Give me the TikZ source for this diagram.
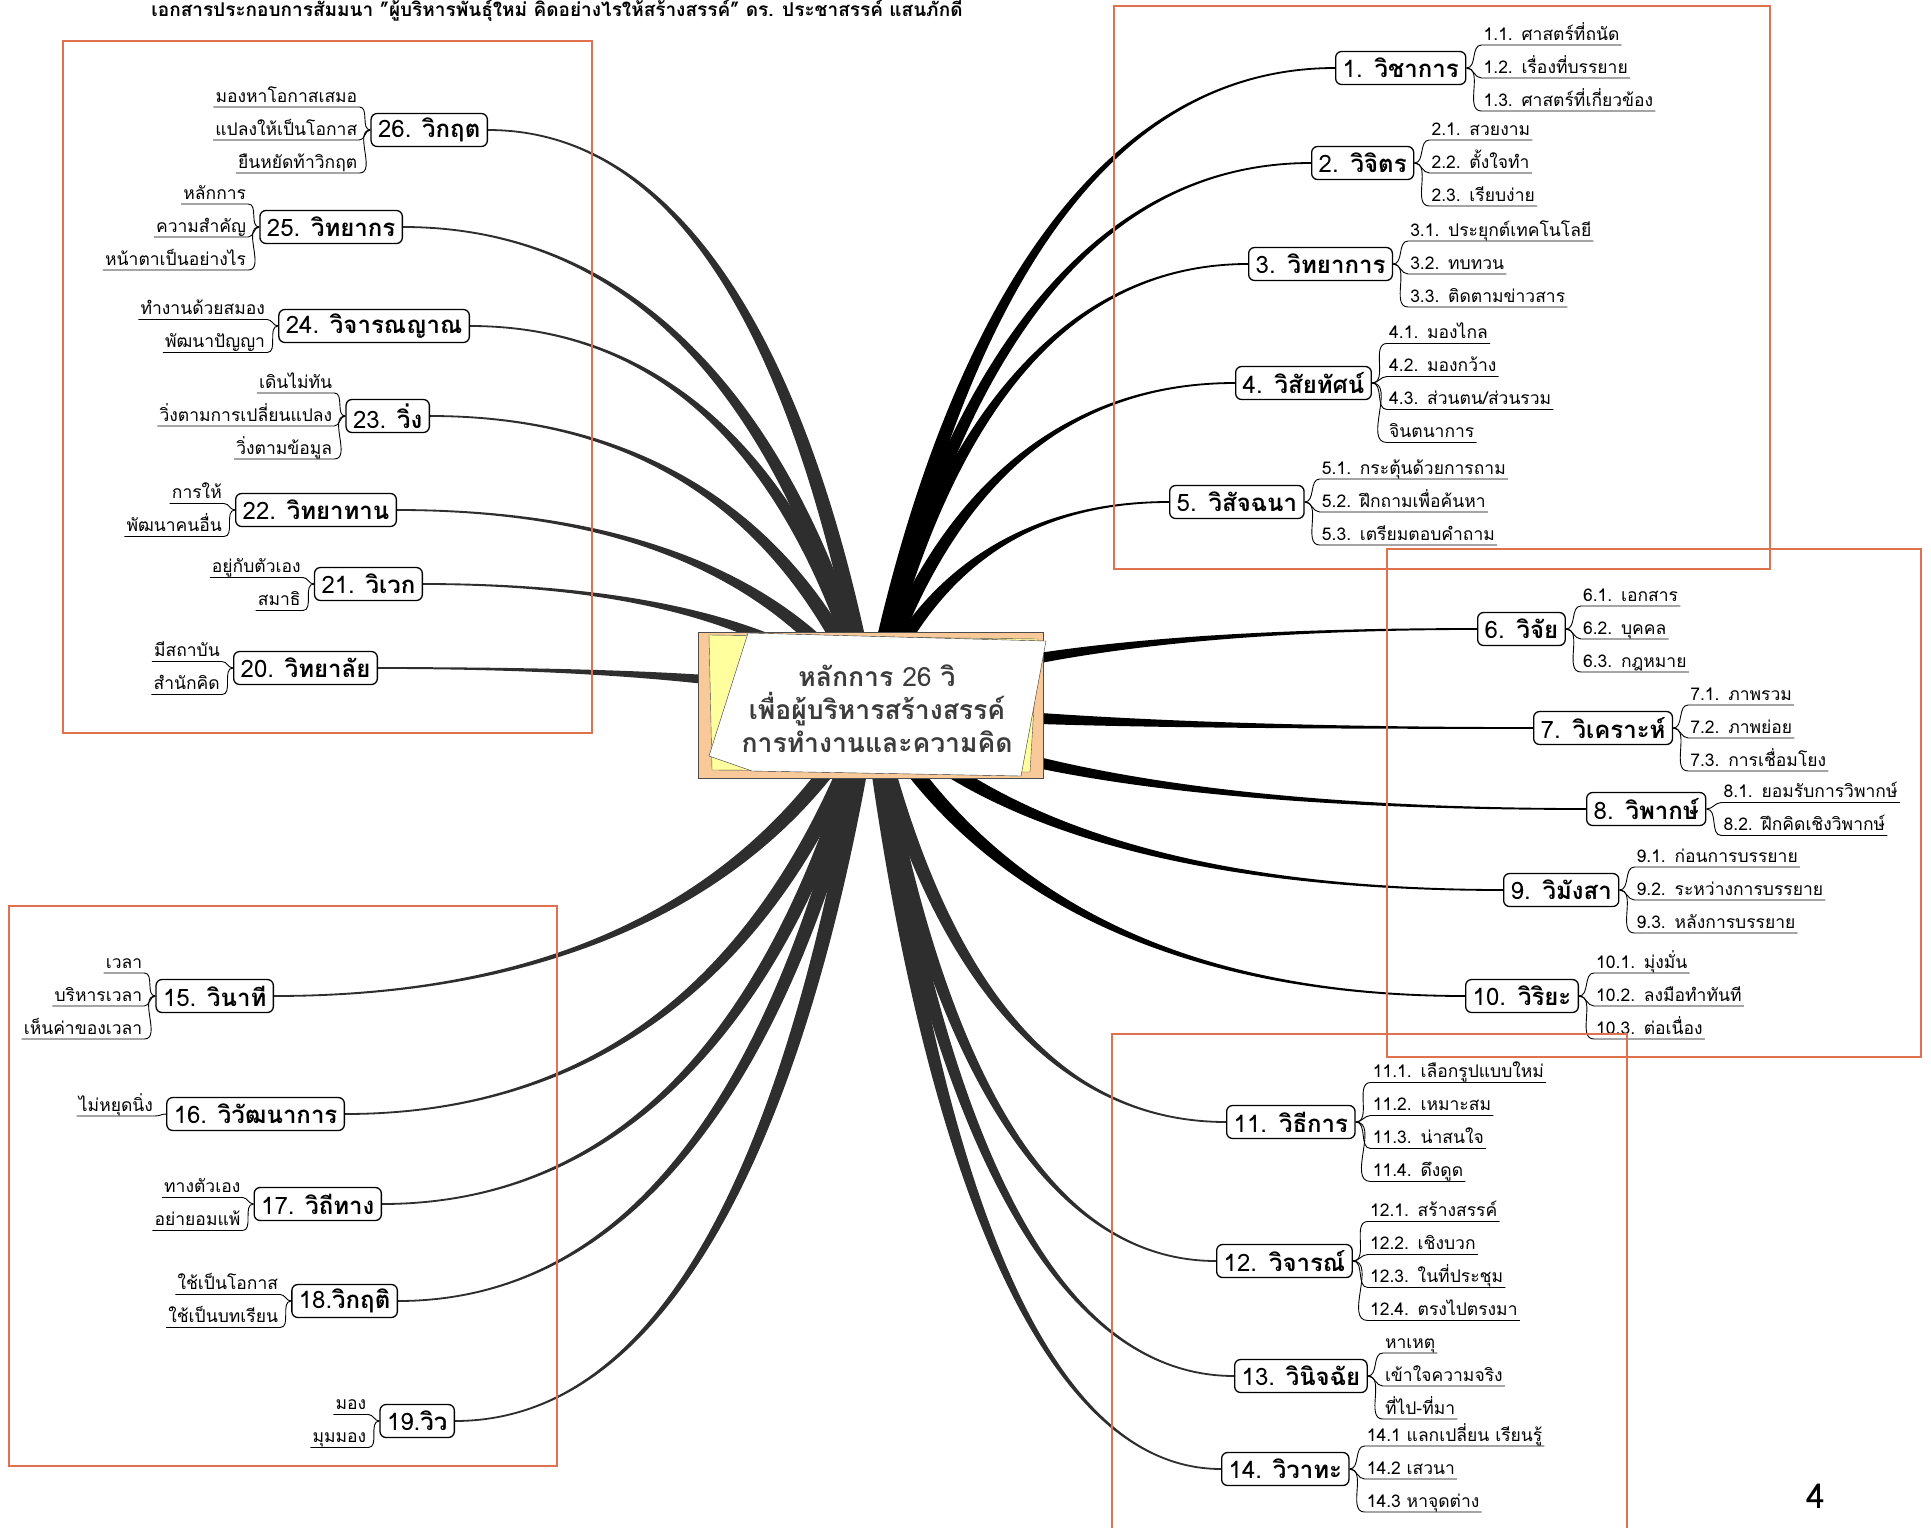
\documentclass[tikz,border=0pt]{standalone}
\usepackage{fontspec}
\setmainfont{Loma}[Script=Thai]
\usetikzlibrary{positioning, calc, backgrounds}
\definecolor{peach}{HTML}{F9C99A}
\definecolor{paper}{HTML}{FFFF9E}
\definecolor{frameline}{HTML}{E0714F}
\definecolor{ink}{HTML}{3C3C3C}

\tikzset{
  topic/.style={draw, line width=1.3pt, rounded corners=6pt, fill=white, inner xsep=7pt,
    minimum height=33pt, font=\fontsize{24}{26}\selectfont},
  leaf/.style={inner xsep=2pt, inner ysep=1.5pt, text height=15pt, text depth=3pt,
    font=\fontsize{17.5}{19}\selectfont},
  twig/.style={line width=0.9pt},
  frame/.style={draw=frameline, line width=1.2pt},
}

% sub topics on the right / left of a topic
\newcommand{\leavesR}[4][10]{%
  \foreach \txt [count=\i] in {#4}{
    \pgfmathsetmacro{\off}{33*(\i-(#3+1)/2)+#1}
    \node[leaf, anchor=south west] (#2-\i) at ($(#2.east)+(15,\off)$) {\txt};
    \draw[twig] (#2.east) to[out=0, in=180] (#2-\i.south west) -- (#2-\i.south east);
  }}
\newcommand{\leavesL}[4][10]{%
  \foreach \txt [count=\i] in {#4}{
    \pgfmathsetmacro{\off}{33*(\i-(#3+1)/2)+#1}
    \node[leaf, anchor=south east] (#2-\i) at ($(#2.west)+(-11,\off)$) {\txt};
    \draw[twig] (#2.west) to[out=180, in=0] (#2-\i.south east) -- (#2-\i.south west);
  }}

% tapered branch from the hub to a topic
\newcommand{\limb}[3][black]{%
  \fill[#1] let \p0=(#2), \p3=(#3),
    \n1={\x3-\x0}, \n2={\y3-\y0},
    \n3={veclen(0.15*\n1,0.55*\n2)}, \n5={\n1/abs(\n1)} in
    ({\x0-0.55*\n2/\n3*8},{\y0+0.15*\n1/\n3*8})
    .. controls ({\x0+0.15*\n1-0.55*\n2/\n3*8},{\y0+0.55*\n2+0.15*\n1/\n3*8})
    and ({\x3-0.55*\n1},{\y3+\n5*0.9}) .. ({\x3},{\y3+\n5*0.9})
    -- ({\x3},{\y3-\n5*0.9})
    .. controls ({\x3-0.55*\n1},{\y3-\n5*0.9})
    and ({\x0+0.15*\n1+0.55*\n2/\n3*8},{\y0+0.55*\n2-0.15*\n1/\n3*8})
    .. ({\x0+0.55*\n2/\n3*8},{\y0-0.15*\n1/\n3*8}) -- cycle;}

\begin{document}
\begin{tikzpicture}[x=1pt, y=-1pt]
  \useasboundingbox (0,0) rectangle (1931,1528);

  % central topic
  \node[draw=black!70, fill=peach, minimum width=345pt, minimum height=146pt, inner sep=0] (hub) at (870.5,705) {};
  \filldraw[fill=paper, draw=black!70] (709,635) -- (1038,639) -- (1030,772) -- (712,770) -- cycle;
  \filldraw[fill=white, draw=black!80] (748,633) -- (1046,641) -- (1021,776) -- (752,771) -- (709,756) -- cycle;
  \node[align=center, text=ink, font=\fontsize{26.5}{33}\selectfont\bfseries] (core) at (877,709)
    {หลักการ {\mdseries 26} วิ\\เพื่อผู้บริหารสร้างสรรค์\\การทำงานและความคิด};

  % right side
  \node[topic, anchor=west] (t1) at (1335,68) {1.\enspace\textbf{วิชาการ}};
  \node[topic, anchor=west] (t2) at (1311,163) {2.\enspace\textbf{วิจิตร}};
  \node[topic, anchor=west] (t3) at (1248,264) {3.\enspace\textbf{วิทยาการ}};
  \node[topic, anchor=west] (t4) at (1235,383) {4.\enspace\textbf{วิสัยทัศน์}};
  \node[topic, anchor=west] (t5) at (1169,502) {5.\enspace\textbf{วิสัจฉนา}};
  \node[topic, anchor=west] (t6) at (1477,629) {6.\enspace\textbf{วิจัย}};
  \node[topic, anchor=west] (t7) at (1533,728) {7.\enspace\textbf{วิเคราะห์}};
  \node[topic, anchor=west] (t8) at (1586,809) {8.\enspace\textbf{วิพากษ์}};
  \node[topic, anchor=west] (t9) at (1503,890) {9.\enspace\textbf{วิมังสา}};
  \node[topic, anchor=west] (t10) at (1465,996) {10.\enspace\textbf{วิริยะ}};
  \node[topic, anchor=west] (t11) at (1226,1122) {11.\enspace\textbf{วิธีการ}};
  \node[topic, anchor=west] (t12) at (1216,1261) {12.\enspace\textbf{วิจารณ์}};
  \node[topic, anchor=west] (t13) at (1234,1376) {13. \textbf{วินิจฉัย}};
  \node[topic, anchor=west] (t14) at (1221,1469) {14. \textbf{วิวาทะ}};

  % left side
  \node[topic, anchor=east] (t15) at (274,996) {15. \textbf{วินาที}};
  \node[topic, anchor=east] (t16) at (345,1114) {16. \textbf{วิวัฒนาการ}};
  \node[topic, anchor=east] (t17) at (382,1204) {17. \textbf{วิถีทาง}};
  \node[topic, anchor=east] (t18) at (398,1301) {18.\textbf{วิกฤติ}};
  \node[topic, anchor=east] (t19) at (455,1421) {19.\textbf{วิว}};
  \node[topic, anchor=east] (t20) at (378,668) {20. \textbf{วิทยาลัย}};
  \node[topic, anchor=east] (t21) at (423,584) {21. \textbf{วิเวก}};
  \node[topic, anchor=east] (t22) at (397,510) {22. \textbf{วิทยาทาน}};
  \node[topic, anchor=east] (t23) at (430,416) {23. \textbf{วิ่ง}};
  \node[topic, anchor=east] (t24) at (470,326) {24. \textbf{วิจารณญาณ}};
  \node[topic, anchor=east] (t25) at (403,227) {25. \textbf{วิทยากร}};
  \node[topic, anchor=east] (t26) at (488,130) {26. \textbf{วิกฤต}};

  \leavesR{t1}{3}{1.1.\enspace ศาสตร์ที่ถนัด, 1.2.\enspace เรื่องที่บรรยาย, 1.3.\enspace ศาสตร์ที่เกี่ยวข้อง}
  \leavesR{t2}{3}{2.1.\enspace สวยงาม, 2.2.\enspace ตั้งใจทำ, 2.3.\enspace เรียบง่าย}
  \leavesR{t3}{3}{3.1.\enspace ประยุกต์เทคโนโลยี, 3.2.\enspace ทบทวน, 3.3.\enspace ติดตามข่าวสาร}
  \leavesR{t4}{4}{4.1.\enspace มองไกล, 4.2.\enspace มองกว้าง, 4.3.\enspace ส่วนตน/ส่วนรวม, จินตนาการ}
  \leavesR{t5}{3}{5.1.\enspace กระตุ้นด้วยการถาม, 5.2.\enspace ฝึกถามเพื่อค้นหา, 5.3.\enspace เตรียมตอบคำถาม}
  \leavesR{t6}{3}{6.1.\enspace เอกสาร, 6.2.\enspace บุคคล, 6.3.\enspace กฎหมาย}
  \leavesR{t7}{3}{7.1.\enspace ภาพรวม, 7.2.\enspace ภาพย่อย, 7.3.\enspace การเชื่อมโยง}
  \leavesR{t8}{2}{8.1.\enspace ยอมรับการวิพากษ์, 8.2.\enspace ฝึกคิดเชิงวิพากษ์}
  \leavesR{t9}{3}{9.1.\enspace ก่อนการบรรยาย, 9.2.\enspace ระหว่างการบรรยาย, 9.3.\enspace หลังการบรรยาย}
  \leavesR{t10}{3}{10.1.\enspace มุ่งมั่น, 10.2.\enspace ลงมือทำทันที, 10.3.\enspace ต่อเนื่อง}
  \leavesR{t11}{4}{11.1.\enspace เลือกรูปแบบใหม่, 11.2.\enspace เหมาะสม, 11.3.\enspace น่าสนใจ, 11.4.\enspace ดึงดูด}
  \leavesR{t12}{4}{12.1.\enspace สร้างสรรค์, 12.2.\enspace เชิงบวก, 12.3.\enspace ในที่ประชุม, 12.4.\enspace ตรงไปตรงมา}
  \leavesR{t13}{3}{หาเหตุ, เข้าใจความจริง, ที่ไป-ที่มา}
  \leavesR{t14}{3}{14.1 แลกเปลี่ยน เรียนรู้, 14.2 เสวนา, 14.3 หาจุดต่าง}

  \leavesL{t15}{3}{เวลา, บริหารเวลา, เห็นค่าของเวลา}
  \leavesL[2]{t16}{1}{ไม่หยุดนิ่ง}
  \leavesL{t17}{2}{ทางตัวเอง, อย่ายอมแพ้}
  \leavesL{t18}{2}{ใช้เป็นโอกาส, ใช้เป็นบทเรียน}
  \leavesL{t19}{2}{มอง, มุมมอง}
  \leavesL{t20}{2}{มีสถาบัน, สำนักคิด}
  \leavesL{t21}{2}{อยู่กับตัวเอง, สมาธิ}
  \leavesL{t22}{2}{การให้, พัฒนาคนอื่น}
  \leavesL{t23}{3}{เดินไม่ทัน, วิ่งตามการเปลี่ยนแปลง, วิ่งตามข้อมูล}
  \leavesL{t24}{2}{ทำงานด้วยสมอง, พัฒนาปัญญา}
  \leavesL{t25}{3}{หลักการ, ความสำคัญ, หน้าตาเป็นอย่างไร}
  \leavesL{t26}{3}{มองหาโอกาสเสมอ, แปลงให้เป็นโอกาส, ยืนหยัดท้าวิกฤต}

  \begin{scope}[on background layer]
    \foreach \k in {1,...,10}{\limb{hub.center}{t\k.west}}
    \foreach \k in {11,...,14}{\limb[black!82]{hub.center}{t\k.west}}
    \foreach \k in {15,...,26}{\limb[black!82]{hub.center}{t\k.east}}
  \end{scope}

  % frames
  \draw[frame] (63,41) rectangle (592,733);
  \draw[frame] (1114,6) rectangle (1770,569);
  \draw[frame] (1387,549) rectangle (1921,1057);
  \draw[frame] (9,906) rectangle (557,1466);
  \draw[frame] (1112,1034) rectangle (1627,1540);

  \node[font=\fontsize{19}{21}\selectfont\bfseries] (title) at (557,11)
    {เอกสารประกอบการสัมมนา "ผู้บริหารพันธุ์ใหม่ คิดอย่างไรให้สร้างสรรค์" ดร. ประชาสรรค์ แสนภักดี};
  \node[font=\fontsize{34}{34}\selectfont] (pageno) at (1816,1496) {4};
\end{tikzpicture}
\end{document}
